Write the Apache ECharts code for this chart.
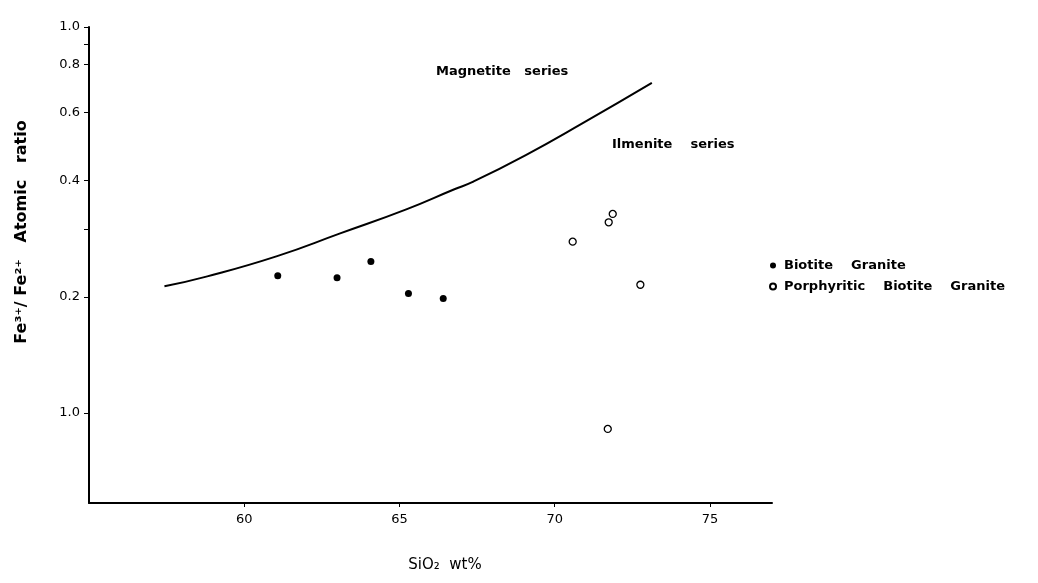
<!doctype html>
<html>
<head>
    <title>Fe3+/Fe2+ vs SiO2</title>
    <script src="https://cdn.jsdelivr.net/npm/echarts@6/dist/echarts.min.js"></script>
</head>
<style>
    html, body { margin: 0; background: #fff; }
    #chart { width: 1038px; height: 583px; }
</style>
<body>
<div id="chart"></div>
<script>
  // boundary curve (SiO2, ratio)
  var curveX = [57.43, 58.81, 61.06, 63.09, 65.22, 66.77, 67.36, 69.07, 70.89, 73.13];
  var curveY = [0.213, 0.226, 0.255, 0.292, 0.337, 0.380, 0.397, 0.466, 0.563, 0.717];

  // biotite granite
  var bgX = [61.08, 62.99, 64.08, 65.29, 66.41];
  var bgY = [0.227, 0.224, 0.247, 0.204, 0.198];

  // porphyritic biotite granite
  var pbgX = [71.87, 71.74, 70.58, 72.76, 71.71];
  var pbgY = [0.328, 0.312, 0.278, 0.215, 0.091];

  var xTicks = [60, 65, 70, 75];
  var yLabels = [0.1, 0.2, 0.4, 0.6, 0.8, 1.0];
  var yTicks = [0.1, 0.2, 0.3, 0.4, 0.6, 0.8, 0.9, 1.0];

  function zip(a, b) {
    return a.map(function (v, i) { return [v, b[i]]; });
  }

  var font = 'DejaVu Sans';
  var myChart = echarts.init(document.getElementById('chart'));

  myChart.setOption({
    backgroundColor: '#fff',
    animation: false,
    grid: { left: 89, right: 266, top: 27, bottom: 80 },
    xAxis: {
      type: 'value',
      min: 55,
      max: 77,
      axisLine: { lineStyle: { color: '#000', width: 2 } },
      axisTick: { customValues: xTicks, length: 4, lineStyle: { color: '#000' } },
      axisLabel: {
        customValues: xTicks, color: '#000', fontFamily: font, fontSize: 13, margin: 10
      },
      splitLine: { show: false }
    },
    yAxis: {
      type: 'log',
      logBase: 10,
      min: 0.0585,
      max: 1,
      axisLine: { lineStyle: { color: '#000', width: 2 } },
      axisTick: { customValues: yTicks, length: 5, lineStyle: { color: '#000' } },
      axisLabel: {
        customValues: yLabels, color: '#000', fontFamily: font, fontSize: 13, margin: 9,
        formatter: function (v) { return v < 0.15 ? '1.0' : Number(v).toFixed(1); }
      },
      minorTick: { show: false },
      splitLine: { show: false }
    },
    legend: {
      orient: 'vertical',
      left: 764,
      top: 254,
      itemGap: 8,
      itemWidth: 6,
      itemHeight: 6,
      icon: 'circle',
      textStyle: { color: '#000', fontFamily: font, fontSize: 13, fontWeight: 'bold', padding: [0, 0, 0, 3] },
      data: ['Biotite    Granite', 'Porphyritic    Biotite    Granite']
    },
    graphic: [
      {
        type: 'text', left: 436, top: 65,
        style: { text: 'Magnetite   series', fill: '#000', font: 'bold 13px "DejaVu Sans"' }
      },
      {
        type: 'text', left: 612, top: 138,
        style: { text: 'Ilmenite    series', fill: '#000', font: 'bold 13px "DejaVu Sans"' }
      },
      {
        type: 'text', x: 22, y: 232, rotation: Math.PI / 2,
        style: {
          text: 'Fe³⁺/ Fe²⁺   Atomic   ratio', fill: '#000',
          font: 'bold 16px "DejaVu Sans"', align: 'center', verticalAlign: 'middle'
        }
      },
      {
        type: 'text', x: 445, y: 565,
        style: {
          text: 'SiO₂  wt%', fill: '#000',
          font: '15px "DejaVu Sans"', align: 'center', verticalAlign: 'middle'
        }
      }
    ],
    series: [
      {
        type: 'line',
        data: zip(curveX, curveY),
        smooth: true,
        symbol: 'none',
        lineStyle: { color: '#000', width: 2 },
        silent: true
      },
      {
        name: 'Biotite    Granite',
        type: 'scatter',
        data: zip(bgX, bgY),
        symbol: 'circle',
        symbolSize: 7,
        itemStyle: { color: '#000', opacity: 1 }
      },
      {
        name: 'Porphyritic    Biotite    Granite',
        type: 'scatter',
        data: zip(pbgX, pbgY),
        symbol: 'circle',
        symbolSize: 7,
        itemStyle: { color: '#fff', borderColor: '#000', borderWidth: 1.3, opacity: 1 }
      }
    ]
  });
</script>
</body>
</html>
